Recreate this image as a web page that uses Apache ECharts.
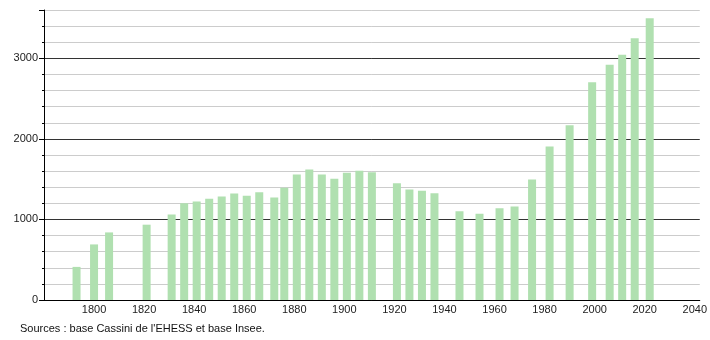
<!DOCTYPE html>
<html>
<head>
<meta charset="utf-8">
<script src="https://cdn.jsdelivr.net/npm/echarts@6/dist/echarts.min.js"></script>
<style>
html,body{margin:0;padding:0;background:#fff;}
#chart{width:710px;height:340px;}
</style>
</head>
<body>
<div id="chart"></div>
<script>
const years = [1793,1800,1806,1821,1831,1836,1841,1846,1851,1856,1861,1866,1872,1876,1881,1886,1891,1896,1901,1906,1911,1921,1926,1931,1936,1946,1954,1962,1968,1975,1982,1990,1999,2006,2011,2016,2022];
const population = [411,690,839,935,1060,1201,1222,1256,1284,1322,1293,1338,1272,1393,1559,1621,1559,1505,1580,1604,1587,1450,1372,1355,1326,1101,1072,1139,1160,1496,1904,2170,2702,2921,3046,3250,3497];
const xTickLabels = [1800,1820,1840,1860,1880,1900,1920,1940,1960,1980,2000,2020,2040];
const yTickLabels = [0,1000,2000,3000];
const sourceText = "Sources : base Cassini de l'EHESS et base Insee.";

const data = years.map((y, i) => [y, population[i]]);
const font = '"Liberation Sans", Arial, sans-serif';

const chart = echarts.init(document.getElementById('chart'), null, {renderer: 'canvas'});
chart.setOption({
  animation: false,
  backgroundColor: '#ffffff',
  grid: {left: 44, right: 10, top: 10, bottom: 40, containLabel: false},
  xAxis: {
    type: 'value', min: 1780, max: 2042, interval: 20,
    axisLine: {show: true, lineStyle: {color: '#000', width: 1}},
    axisTick: {show: false},
    splitLine: {show: false},
    axisLabel: {
      color: '#222', fontFamily: font, fontSize: 11, margin: 4,
      formatter: v => xTickLabels.includes(v) ? String(v) : ''
    }
  },
  yAxis: [{
    type: 'value', min: 0, max: 3600, interval: 200,
    axisLine: {show: true, lineStyle: {color: '#000', width: 1}},
    axisTick: {show: true, length: 2, lineStyle: {color: '#000'}},
    splitLine: {show: true, showMinLine: true, lineStyle: {color: ['#333333','#cccccc','#cccccc','#cccccc','#cccccc'], width: 1}},
    axisLabel: {show: false}
  }, {
    type: 'value', min: 0, max: 3600, interval: 1000, position: 'left',
    axisLine: {show: false},
    axisTick: {show: true, length: 5, lineStyle: {color: '#000'}},
    splitLine: {show: false},
    axisLabel: {
      color: '#222', fontFamily: font, fontSize: 11, margin: 6,
      formatter: v => yTickLabels.includes(v) ? String(v) : ''
    }
  }],
  series: [{
    type: 'bar',
    data: data,
    barWidth: 8,
    itemStyle: {color: '#b0e0b0'},
    z: 3
  }],
  graphic: [{
    type: 'text', left: 20, top: 323,
    style: {text: sourceText, fill: '#111', font: '11px ' + font}
  }]
});
</script>
</body>
</html>
